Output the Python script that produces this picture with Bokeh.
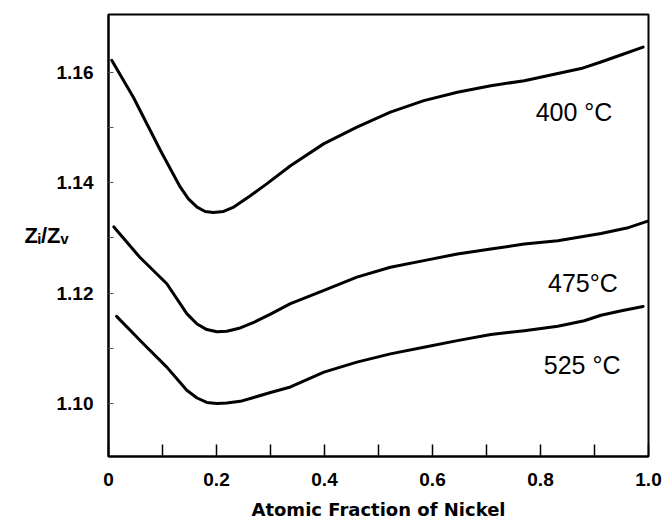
from bokeh.plotting import figure
from bokeh.models import Range1d, FixedTicker, NumeralTickFormatter, Label
from bokeh.embed import file_html
from bokeh.resources import INLINE

# ---- data ----
x_400 = [0.006, 0.046, 0.096, 0.133, 0.148, 0.164, 0.179, 0.194, 0.213, 0.232, 0.262, 0.293,
         0.337, 0.399, 0.460, 0.522, 0.584, 0.646, 0.708, 0.770, 0.832, 0.875, 0.912, 0.950, 0.990]
y_400 = [1.1622, 1.1555, 1.1459, 1.1392, 1.1371, 1.1356, 1.1348, 1.1346, 1.1348, 1.1356, 1.1376, 1.1398,
         1.1431, 1.1471, 1.1501, 1.1528, 1.1549, 1.1564, 1.1576, 1.1585, 1.1598, 1.1607, 1.1619, 1.1632, 1.1646]

x_475 = [0.010, 0.058, 0.108, 0.145, 0.164, 0.182, 0.201, 0.219, 0.244, 0.269, 0.300, 0.337, 0.399,
         0.460, 0.522, 0.584, 0.646, 0.708, 0.770, 0.832, 0.912, 0.960, 1.000]
y_475 = [1.1320, 1.1265, 1.1217, 1.1163, 1.1144, 1.1134, 1.1130, 1.1131, 1.1137, 1.1147, 1.1162, 1.1181, 1.1205,
         1.1229, 1.1247, 1.1259, 1.1271, 1.1280, 1.1289, 1.1295, 1.1308, 1.1318, 1.1331]

x_525 = [0.015, 0.065, 0.108, 0.145, 0.164, 0.182, 0.201, 0.219, 0.244, 0.269, 0.300, 0.337, 0.399,
         0.460, 0.522, 0.584, 0.646, 0.708, 0.770, 0.832, 0.881, 0.912, 0.950, 0.990]
y_525 = [1.1158, 1.1108, 1.1066, 1.1024, 1.1010, 1.1002, 1.1000, 1.1001, 1.1004, 1.1011, 1.1020, 1.1030, 1.1057,
         1.1075, 1.1090, 1.1102, 1.1114, 1.1125, 1.1132, 1.1140, 1.1150, 1.1160, 1.1168, 1.1176]

curve_labels = ["400 \u00b0C", "475\u00b0C", "525 \u00b0C"]
label_x = [0.791, 0.814, 0.806]
label_y = [1.1528, 1.1218, 1.1069]

x_ticks = [0, 0.2, 0.4, 0.6, 0.8, 1.0]
x_minor = [0.1, 0.3, 0.5, 0.7, 0.9]
y_ticks = [1.10, 1.12, 1.14, 1.16]
y_minor = [1.11, 1.13, 1.15]

x_title = "Atomic Fraction of Nickel"
y_title = "Z\u1d62/Z\u1d65"

# ---- figure ----
p = figure(width=663, height=522, output_backend="svg", toolbar_location=None,
           x_range=Range1d(0, 1.0), y_range=Range1d(1.0904, 1.1705),
           min_border_left=108, min_border_right=15, min_border_top=14, min_border_bottom=66)
p.background_fill_color = "white"
p.border_fill_color = "white"
p.grid.visible = False
p.outline_line_color = "black"
p.outline_line_width = 2

TICK_FONT = "Liberation Sans"

xa = p.xaxis[0]
xa.ticker = FixedTicker(ticks=x_ticks, minor_ticks=x_minor)
xa.major_label_overrides = {0: "0", 0.2: "0.2", 0.4: "0.4", 0.6: "0.6", 0.8: "0.8", 1.0: "1.0"}
xa.major_tick_in = 12
xa.major_tick_out = 0
xa.minor_tick_in = 12
xa.minor_tick_out = 0
xa.major_tick_line_width = 1.5
xa.minor_tick_line_width = 1.5
xa.axis_line_width = 2
xa.major_label_text_font = TICK_FONT
xa.major_label_text_font_style = "bold"
xa.major_label_text_font_size = "19px"
xa.major_label_text_color = "black"
xa.major_label_standoff = 16
xa.axis_label = x_title
xa.axis_label_text_font = "DejaVu Sans"
xa.axis_label_text_font_style = "bold"
xa.axis_label_text_font_size = "18px"
xa.axis_label_text_color = "black"
xa.axis_label_standoff = 10

ya = p.yaxis[0]
ya.ticker = FixedTicker(ticks=y_ticks, minor_ticks=y_minor)
ya.formatter = NumeralTickFormatter(format="0.00")
ya.major_tick_in = 5
ya.major_tick_out = 0
ya.minor_tick_in = 5
ya.minor_tick_out = 0
ya.major_tick_line_color = "#555555"
ya.minor_tick_line_color = "#555555"
ya.axis_line_width = 2
ya.major_label_text_font = TICK_FONT
ya.major_label_text_font_style = "bold"
ya.major_label_text_font_size = "19px"
ya.major_label_text_color = "black"
ya.major_label_standoff = 15
ya.axis_label = y_title
ya.axis_label_orientation = "horizontal"
ya.axis_label_text_font = "Liberation Sans"
ya.axis_label_text_font_style = "bold"
ya.axis_label_text_font_size = "22px"
ya.axis_label_text_color = "black"
ya.axis_label_standoff = -15

for xs, ys in [(x_400, y_400), (x_475, y_475), (x_525, y_525)]:
    p.line(xs, ys, line_color="black", line_width=3, line_join="round", line_cap="round")

for t, lx, ly in zip(curve_labels, label_x, label_y):
    p.add_layout(Label(x=lx, y=ly, text=t, text_font="Liberation Sans", text_font_size="25px",
                       text_color="black", text_align="left", text_baseline="alphabetic"))

open("out.html", "w").write(file_html(p, INLINE))
